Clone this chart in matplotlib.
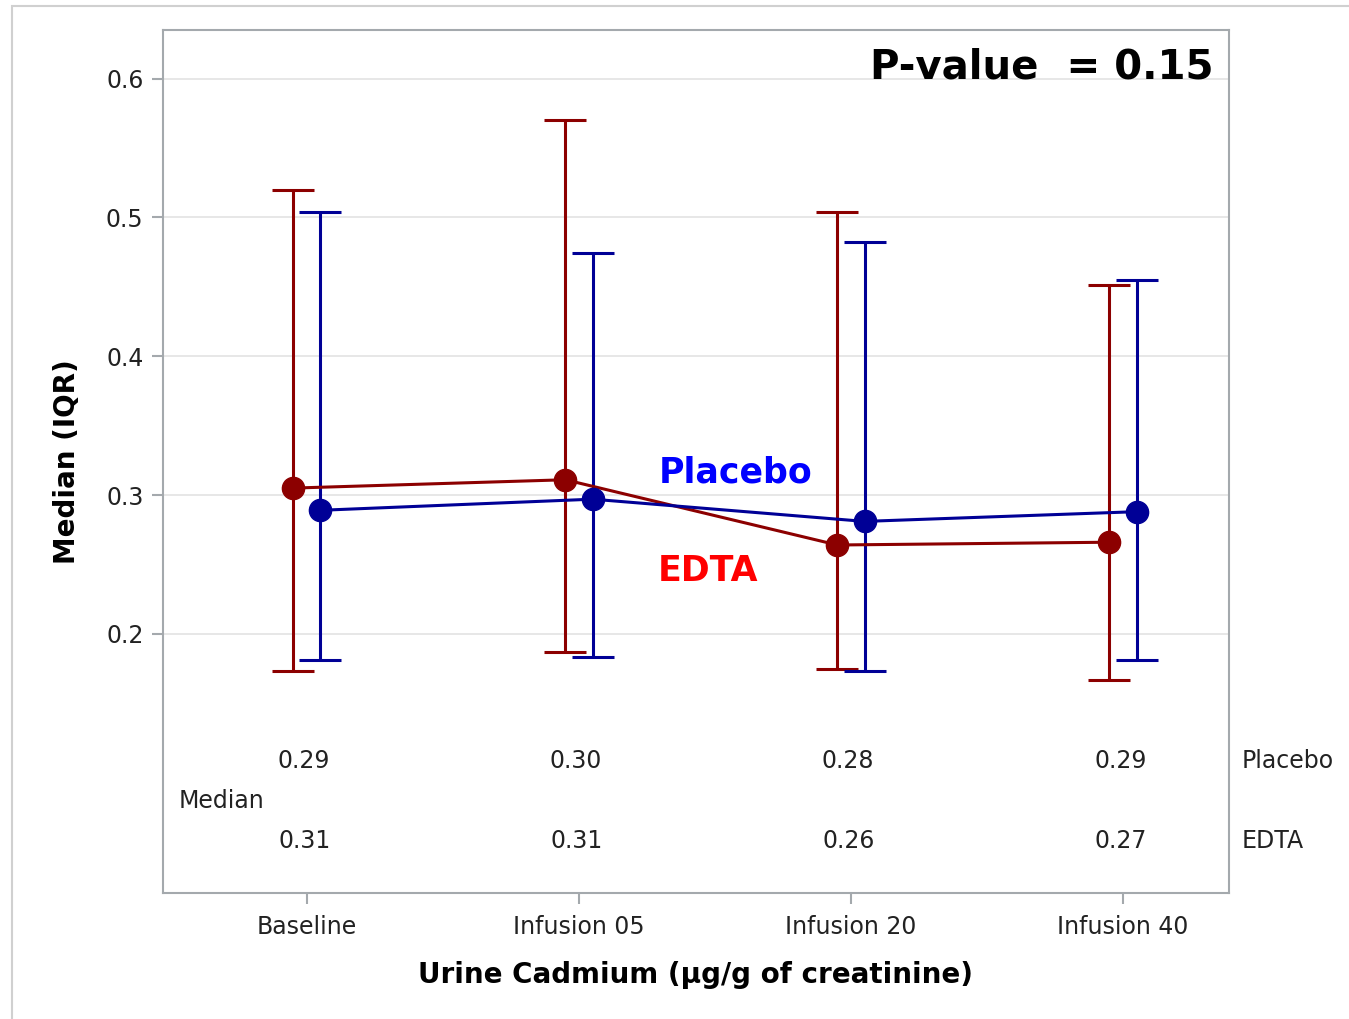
import matplotlib.pyplot as plt
from matplotlib.patches import Rectangle

# data
visits = ['Baseline', 'Infusion 05', 'Infusion 20', 'Infusion 40']
edta_median = [0.305, 0.311, 0.264, 0.266]
edta_q1 = [0.173, 0.187, 0.175, 0.167]
edta_q3 = [0.520, 0.570, 0.504, 0.451]
placebo_median = [0.289, 0.297, 0.281, 0.288]
placebo_q1 = [0.181, 0.183, 0.173, 0.181]
placebo_q3 = [0.504, 0.474, 0.482, 0.455]
placebo_labels = ['0.29', '0.30', '0.28', '0.29']
edta_labels = ['0.31', '0.31', '0.26', '0.27']

edta_col = '#8c0000'
placebo_col = '#000096'
frame_col = '#a4a9ad'
txt_col = '#222222'

fig = plt.figure(figsize=(13.49, 10.19), dpi=100)
ax = fig.add_axes([163/1349, 1-893/1019, (1229-163)/1349, (893-30)/1019])

# outer light frame
fig.patches.append(Rectangle((12/1349, -0.01), 1.0, 1-6/1019+0.01, transform=fig.transFigure,
                             fill=False, edgecolor='#d0d0d0', linewidth=1.5))

x = list(range(len(visits)))
xe = [i - 0.05 for i in x]
xp = [i + 0.05 for i in x]

def draw(xs, med, lo, hi, col):
    yerr = [[m - l for m, l in zip(med, lo)], [h - m for m, h in zip(med, hi)]]
    ax.errorbar(xs, med, yerr=yerr, fmt='none', ecolor=col, elinewidth=2.2,
                capsize=15, capthick=2.2, zorder=3)
    ax.plot(xs, med, color=col, lw=2.2, marker='o', markersize=16, zorder=4)

draw(xe, edta_median, edta_q1, edta_q3, edta_col)
draw(xp, placebo_median, placebo_q1, placebo_q3, placebo_col)

ax.set_xlim(-0.529, 3.39)
ax.set_ylim(0.0133, 0.635)
ax.set_yticks([0.2, 0.3, 0.4, 0.5, 0.6])
ax.set_yticklabels(['0.2', '0.3', '0.4', '0.5', '0.6'])
ax.set_xticks(x)
ax.set_xticklabels(visits)
ax.tick_params(axis='both', labelsize=17, color=frame_col, length=8, width=1.5,
               labelcolor=txt_col, pad=6)
ax.tick_params(axis='x', pad=8)
for y in [0.2, 0.3, 0.4, 0.5, 0.6]:
    ax.axhline(y, color='#e3e3e3', lw=1.2, zorder=0)
for s in ax.spines.values():
    s.set_color(frame_col)
    s.set_linewidth(1.5)

ax.set_ylabel('Median (IQR)', fontsize=20, fontweight='bold', labelpad=18)
ax.set_xlabel('Urine Cadmium (µg/g of creatinine)', fontsize=20, fontweight='bold', labelpad=16)

# bottom table of medians
for i in x:
    ax.text(i - 0.01, 0.1085, placebo_labels[i], ha='center', va='center', fontsize=17, color=txt_col)
    ax.text(i - 0.01, 0.0508, edta_labels[i], ha='center', va='center', fontsize=17, color=txt_col)
ax.text(-0.47, 0.0796, 'Median', ha='left', va='center', fontsize=17, color=txt_col)
ax.text(3.435, 0.1085, 'Placebo', ha='left', va='center', fontsize=17, color=txt_col, clip_on=False)
ax.text(3.435, 0.0508, 'EDTA', ha='left', va='center', fontsize=17, color=txt_col, clip_on=False)

ax.text(1.295, 0.3165, 'Placebo', color='#0000ff', fontsize=25, fontweight='bold', ha='left', va='center')
ax.text(1.29, 0.245, 'EDTA', color='#ff0000', fontsize=25, fontweight='bold', ha='left', va='center')
ax.text(0.985, 0.98, 'P-value  = 0.15', transform=ax.transAxes, fontsize=29,
        fontweight='bold', ha='right', va='top')

fig.savefig('out.png', dpi=100)
